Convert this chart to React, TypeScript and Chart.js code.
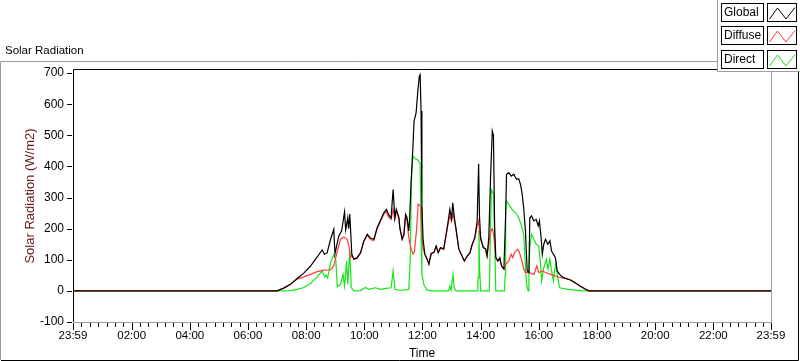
import React, { useEffect, useRef } from 'react';
import { Chart, registerables } from 'chart.js';

Chart.register(...registerables);

const FONT = '"Liberation Sans", Arial, sans-serif';

// ---- data (time in hours of day, values in W/m2) ----
const globalTimes = [0, 7.00, 7.23, 7.46, 7.69, 7.92, 8.15, 8.38, 8.55, 8.63, 8.72, 8.84, 8.95, 8.99, 9.12, 9.22, 9.32, 9.36, 9.43, 9.46, 9.50, 9.57, 9.64, 9.75, 9.87, 9.98, 10.10, 10.21, 10.33, 10.44, 10.56, 10.67, 10.76, 10.84, 10.92, 10.99, 11.05, 11.10, 11.19, 11.22, 11.30, 11.36, 11.42, 11.47, 11.53, 11.56, 11.61, 11.67, 11.71, 11.78, 11.84, 11.89, 11.92, 11.95, 11.98, 12.02, 12.08, 12.16, 12.22, 12.30, 12.39, 12.47, 12.54, 12.62, 12.73, 12.85, 12.94, 13.00, 13.04, 13.10, 13.15, 13.25, 13.36, 13.44, 13.54, 13.63, 13.71, 13.80, 13.88, 13.93, 13.96, 14.00, 14.09, 14.17, 14.22, 14.28, 14.34, 14.40, 14.44, 14.48, 14.52, 14.59, 14.66, 14.72, 14.80, 14.86, 14.89, 14.97, 15.05, 15.14, 15.23, 15.31, 15.37, 15.42, 15.48, 15.54, 15.60, 15.66, 15.69, 15.75, 15.83, 15.91, 15.98, 16.02, 16.08, 16.12, 16.17, 16.23, 16.31, 16.38, 16.44, 16.50, 16.57, 16.63, 16.72, 16.80, 16.92, 17.09, 17.26, 17.43, 17.61, 17.72, 24];
const globalValues = [0, 0, 9, 21, 40, 57, 80, 109, 132, 118, 122, 166, 198, 119, 176, 193, 254, 196, 235, 200, 247, 118, 102, 106, 123, 160, 182, 170, 166, 203, 228, 251, 262, 244, 235, 326, 235, 262, 235, 203, 166, 182, 246, 235, 193, 235, 353, 460, 546, 572, 642, 690, 695, 578, 278, 166, 118, 102, 86, 120, 123, 144, 123, 139, 135, 203, 262, 231, 283, 233, 201, 134, 112, 96, 112, 122, 150, 171, 225, 409, 240, 171, 139, 135, 112, 171, 364, 514, 500, 209, 107, 96, 107, 80, 70, 246, 375, 380, 369, 375, 359, 360, 342, 316, 267, 193, 64, 59, 235, 241, 225, 230, 209, 225, 171, 118, 150, 166, 150, 161, 128, 118, 107, 64, 53, 45, 40, 35, 25, 15, 5, 0, 0];

const diffuseTimes = [0, 7.00, 7.23, 7.46, 7.69, 7.92, 8.15, 8.38, 8.60, 8.84, 8.95, 9.07, 9.18, 9.30, 9.41, 9.48, 9.52, 9.57, 9.64, 9.75, 9.87, 9.98, 10.10, 10.21, 10.33, 10.44, 10.56, 10.67, 10.76, 10.84, 10.92, 10.99, 11.05, 11.10, 11.19, 11.22, 11.30, 11.36, 11.42, 11.47, 11.53, 11.60, 11.67, 11.72, 11.80, 11.85, 11.90, 11.95, 11.98, 12.02, 12.08, 12.16, 12.22, 12.30, 12.39, 12.47, 12.54, 12.62, 12.73, 12.85, 12.94, 13.00, 13.04, 13.10, 13.15, 13.25, 13.36, 13.44, 13.54, 13.63, 13.71, 13.80, 13.88, 13.93, 13.96, 14.00, 14.09, 14.17, 14.22, 14.28, 14.34, 14.40, 14.44, 14.48, 14.52, 14.59, 14.66, 14.72, 14.80, 14.86, 14.97, 15.05, 15.10, 15.17, 15.27, 15.33, 15.42, 15.48, 15.54, 15.66, 15.83, 15.93, 16.00, 16.12, 16.23, 16.40, 16.57, 16.72, 16.92, 17.09, 17.26, 17.43, 17.61, 17.72, 24];
const diffuseValues = [0, 0, 9, 21, 38, 45, 53, 62, 67, 68, 80, 128, 166, 173, 166, 139, 107, 115, 102, 106, 120, 158, 180, 165, 162, 200, 225, 246, 255, 236, 230, 262, 230, 258, 232, 203, 166, 180, 240, 225, 170, 140, 118, 125, 200, 279, 275, 270, 183, 140, 118, 102, 86, 120, 123, 144, 123, 139, 133, 200, 240, 225, 250, 225, 200, 134, 112, 96, 112, 122, 148, 168, 210, 225, 190, 165, 139, 135, 112, 150, 190, 200, 185, 150, 107, 96, 100, 80, 70, 86, 96, 118, 107, 123, 134, 125, 96, 70, 59, 59, 53, 80, 59, 64, 59, 53, 48, 43, 40, 35, 25, 15, 5, 0, 0];

const directTimes = [0, 7.00, 7.46, 7.69, 7.92, 8.15, 8.38, 8.55, 8.64, 8.70, 8.74, 8.84, 8.95, 9.02, 9.07, 9.18, 9.27, 9.32, 9.39, 9.43, 9.50, 9.55, 9.64, 9.87, 10.04, 10.15, 10.38, 10.56, 10.75, 10.92, 10.99, 11.05, 11.20, 11.45, 11.53, 11.58, 11.62, 11.67, 11.75, 11.85, 11.92, 11.95, 11.98, 12.05, 12.15, 12.30, 12.90, 12.94, 12.98, 13.05, 13.09, 13.15, 13.90, 13.91, 13.94, 13.97, 14.00, 14.30, 14.33, 14.37, 14.45, 14.48, 14.52, 14.82, 14.84, 14.86, 14.89, 14.97, 15.08, 15.20, 15.31, 15.40, 15.48, 15.54, 15.58, 15.63, 15.66, 15.69, 15.75, 15.83, 15.91, 16.00, 16.06, 16.10, 16.17, 16.26, 16.32, 16.38, 16.44, 16.50, 16.55, 16.60, 16.65, 16.72, 17.00, 17.50, 24];
const directValues = [0, 0, 1, 5, 11, 24, 45, 64, 45, 50, 42, 91, 116, 100, 13, 21, 53, 16, 96, 21, 128, 11, 0, 1, 11, 5, 10, 5, 8, 10, 64, 5, 2, 3, 5, 107, 353, 433, 425, 420, 410, 183, 54, 20, 3, 0, 0, 15, 2, 53, 10, 0, 0, 43, 193, 60, 0, 0, 171, 326, 310, 171, 0, 0, 50, 257, 289, 278, 262, 251, 235, 210, 182, 75, 21, 0, 50, 139, 182, 166, 150, 144, 85, 32, 75, 102, 70, 102, 64, 32, 70, 90, 40, 10, 5, 0, 0];

const seriesLabels = ['Global', 'Diffuse', 'Direct'];
const seriesColors = ['#000000', '#ff3b3b', '#14e614'];

const xTickValues = [-1 / 60, 2, 4, 6, 8, 10, 12, 14, 16, 18, 20, 22, 24 - 1 / 60];
const xTickLabels = ['23:59', '02:00', '04:00', '06:00', '08:00', '10:00', '12:00', '14:00', '16:00', '18:00', '20:00', '22:00', '23:59'];
const yTickValues = [-100, 0, 100, 200, 300, 400, 500, 600, 700];

const toPoints = (ts: number[], vs: number[]) => {
  const n = Math.min(ts.length, vs.length);
  const out: { x: number; y: number }[] = [];
  for (let i = 0; i < n; i++) out.push({ x: ts[i], y: vs[i] });
  return out;
};

const GRAY = '#9c9c9c';

const framePlugin = {
  id: 'labviewFrame',
  beforeDraw(chart: any) {
    const ctx = chart.ctx;
    ctx.save();
    ctx.fillStyle = '#ffffff';
    ctx.fillRect(0, 0, chart.width, chart.height);
    ctx.restore();
  },
  afterDraw(chart: any) {
    const ctx: CanvasRenderingContext2D = chart.ctx;
    const a = chart.chartArea;
    const xs = chart.scales.x;
    const ys = chart.scales.y;
    ctx.save();
    ctx.lineWidth = 1;

    // x tick marks (major + 6 minor between)
    ctx.strokeStyle = '#000';
    ctx.beginPath();
    for (let i = 0; i < xTickValues.length - 1; i++) {
      const t0 = xTickValues[i];
      const t1 = xTickValues[i + 1];
      for (let k = 0; k <= 7; k++) {
        if (k === 7 && i < xTickValues.length - 2) continue;
        const v = t0 + ((t1 - t0) * k) / 7;
        const px = Math.round(xs.getPixelForValue(v)) + 0.5;
        const len = k === 0 || k === 7 ? 7 : 4;
        ctx.moveTo(px, a.bottom + 1);
        ctx.lineTo(px, a.bottom + 1 + len);
      }
    }
    // y tick marks
    for (const v of yTickValues) {
      const py = Math.round(ys.getPixelForValue(v)) + 0.5;
      ctx.moveTo(a.left - 6, py);
      ctx.lineTo(a.left - 1, py);
    }
    ctx.stroke();

    // plot area borders (sunken look)
    ctx.strokeStyle = '#000';
    ctx.beginPath();
    ctx.moveTo(a.left + 0.5, a.bottom);
    ctx.lineTo(a.left + 0.5, a.top - 0.5);
    ctx.lineTo(a.right, a.top - 0.5);
    ctx.stroke();
    ctx.strokeStyle = GRAY;
    ctx.beginPath();
    ctx.moveTo(a.left + 1, a.bottom + 0.5);
    ctx.lineTo(a.right + 0.5, a.bottom + 0.5);
    ctx.lineTo(a.right + 0.5, a.top - 1);
    ctx.stroke();

    // outer frame
    ctx.strokeStyle = GRAY;
    ctx.beginPath();
    ctx.moveTo(0.5, 360);
    ctx.lineTo(0.5, 61.5);
    ctx.lineTo(718, 61.5);
    ctx.stroke();
    ctx.strokeStyle = '#000';
    ctx.beginPath();
    ctx.moveTo(1, 360.5);
    ctx.lineTo(798.5, 360.5);
    ctx.lineTo(798.5, 72);
    ctx.stroke();

    // legend panel
    ctx.fillStyle = '#ffffff';
    ctx.fillRect(717, 0, 83, 72);
    ctx.strokeStyle = GRAY;
    ctx.beginPath();
    ctx.moveTo(717.5, 0);
    ctx.lineTo(717.5, 71.5);
    ctx.lineTo(800, 71.5);
    ctx.stroke();

    ctx.font = '12px ' + FONT;
    ctx.textBaseline = 'middle';
    ctx.textAlign = 'left';
    chart.data.datasets.forEach((ds: any, i: number) => {
      const top = 3 + i * 23.3;
      const ty = Math.round(top) + 0.5;
      ctx.strokeStyle = '#000';
      ctx.lineWidth = 1;
      ctx.strokeRect(721.5, ty, 42, 18);
      ctx.strokeRect(767.5, ty, 29, 18);
      ctx.fillStyle = '#000';
      ctx.fillText(ds.label, 724, ty + 9.5);
      ctx.strokeStyle = ds.borderColor;
      ctx.beginPath();
      ctx.moveTo(769.5, ty + 15.5);
      ctx.lineTo(777.5, ty + 4.5);
      ctx.lineTo(786, ty + 15.5);
      ctx.lineTo(795, ty + 4);
      ctx.stroke();
    });

    ctx.restore();
  },
};

export default function App() {
  const ref = useRef<HTMLCanvasElement | null>(null);

  useEffect(() => {
    if (!ref.current) return;
    Chart.defaults.font.family = FONT;
    const seriesTimes = [globalTimes, diffuseTimes, directTimes];
    const seriesValues = [globalValues, diffuseValues, directValues];
    const datasets = seriesLabels.map((label, i) => ({
      label,
      data: toPoints(seriesTimes[i], seriesValues[i]),
      borderColor: seriesColors[i],
      backgroundColor: seriesColors[i],
      borderWidth: 1.2,
      pointRadius: 0,
      tension: 0,
      fill: false,
    }));

    const chart = new Chart(ref.current, {
      type: 'line',
      data: { datasets },
      plugins: [framePlugin],
      options: {
        animation: false,
        responsive: false,
        maintainAspectRatio: false,
        devicePixelRatio: 1,
        parsing: false,
        normalized: true,
        layout: { padding: { left: 5, right: 29, top: 0, bottom: 0 } },
        plugins: {
          legend: { display: false },
          tooltip: { enabled: false },
          title: {
            display: true,
            text: 'Solar Radiation',
            align: 'start',
            color: '#000',
            font: { family: FONT, size: 11.5, weight: 'normal' },
            padding: { top: 43.5, bottom: 12.7 },
          },
        },
        scales: {
          x: {
            type: 'linear',
            min: -1 / 60,
            max: 24 - 1 / 60,
            afterBuildTicks: (s: any) => {
              s.ticks = xTickValues.map((v) => ({ value: v }));
            },
            afterFit: (s: any) => {
              s.height = 39;
              s.paddingLeft = 0;
              s.paddingRight = 0;
            },
            ticks: {
              autoSkip: false,
              maxRotation: 0,
              padding: 7,
              color: '#000',
              font: { family: FONT, size: 11.5 },
              callback: (_v: any, idx: number) => xTickLabels[idx],
            },
            grid: { display: false, drawTicks: false },
            border: { display: false },
            title: {
              display: true,
              text: 'Time',
              color: '#000',
              font: { family: FONT, size: 12 },
              padding: { top: 0, bottom: 0 },
            },
          },
          y: {
            type: 'linear',
            min: -100,
            max: 710,
            afterBuildTicks: (s: any) => {
              s.ticks = yTickValues.map((v) => ({ value: v }));
            },
            afterFit: (s: any) => {
              s.width = 68;
              s.paddingTop = 0;
              s.paddingBottom = 0;
            },
            ticks: {
              padding: 9,
              color: '#000',
              font: { family: FONT, size: 12 },
              callback: (v: any) => String(v),
            },
            grid: { display: false, drawTicks: false },
            border: { display: false },
            title: {
              display: true,
              text: 'Solar Radiation (W/m2)',
              color: '#6b1a1a',
              font: { family: FONT, size: 13 },
              padding: { top: 18, bottom: 0 },
            },
          },
        },
      },
    } as any);

    return () => chart.destroy();
  }, []);

  return (
    <div style={{ position: 'absolute', left: 0, top: 0, width: 800, height: 361, background: '#fff' }}>
      <canvas ref={ref} width={800} height={361} style={{ display: 'block', width: 800, height: 361 }} />
    </div>
  );
}
